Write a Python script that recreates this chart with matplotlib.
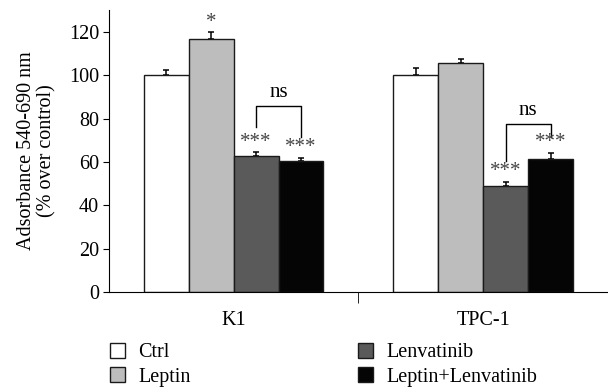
from matplotlib import pyplot as plt
from matplotlib.patches import Patch
import numpy as np

plt.rcParams['font.family'] = ['Liberation Serif', 'DejaVu Serif']
plt.rcParams['font.size'] = 14.5

# data
groups = ['K1', 'TPC-1']
treatments = ['Ctrl', 'Leptin', 'Lenvatinib', 'Leptin+Lenvatinib']
colors = ['#ffffff', '#bdbdbd', '#5a5a5a', '#050505']
values = np.array([[100.0, 116.8, 62.5, 60.6],
                   [100.1, 105.4, 48.9, 61.2]])
errors = np.array([[2.6, 2.9, 1.9, 1.4],
                   [3.0, 1.9, 1.8, 3.0]])
stars = [['', '*', '***', '***'],
         ['', '', '***', '***']]
# ns brackets: (group, left bar, right bar, left foot, right foot, top)
brackets = [(0, 2, 3, 76.0, 71.5, 85.6),
            (1, 2, 3, 60.4, 71.5, 77.5)]

width = 0.18
offsets = (np.arange(4) - 1.5) * width
x = np.arange(len(groups))

fig = plt.figure(figsize=(6.08, 3.89), dpi=100)
ax = fig.add_axes([0.179, 0.2494, 0.821, 0.7246])

for j in range(4):
    ax.bar(x + offsets[j], values[:, j], width, color=colors[j],
           edgecolor='#1a1a1a', linewidth=1.0, zorder=2)
    ax.errorbar(x + offsets[j], values[:, j],
                yerr=[np.zeros(len(groups)), errors[:, j]],
                fmt='none', ecolor='black', elinewidth=1.1,
                capsize=2.5, capthick=1.1, zorder=1)

for i in range(len(groups)):
    for j in range(4):
        if stars[i][j]:
            ax.text(x[i] + offsets[j], values[i, j] + errors[i, j] + 0.3,
                    stars[i][j], ha='center', va='bottom', fontsize=15,
                    color='#444444')

for g, a, b, ya, yb, top in brackets:
    xa = x[g] + offsets[a]
    xb = x[g] + offsets[b]
    ax.plot([xa, xa, xb, xb], [ya, top, top, yb], color='black', lw=1.0)
    ax.text((xa + xb) / 2, top + 2, 'ns', ha='center', va='bottom',
            fontsize=15)

ax.set_xlim(-0.5, 1.5)
ax.set_ylim(0, 130)
ax.set_yticks(np.arange(0, 121, 20))
ax.set_xticks(x)
ax.set_xticklabels(groups)
ax.set_xticks([0.5], minor=True)
ax.tick_params(axis='x', which='major', length=0, pad=14)
ax.tick_params(axis='x', which='minor', length=8, direction='out')
ax.tick_params(axis='y', length=4, direction='out', pad=3)
ax.spines['top'].set_visible(False)
ax.spines['right'].set_visible(False)
ax.set_ylabel('Adsorbance 540-690 nm\n(% over control)', linespacing=1.05,
              labelpad=9)

handles = [Patch(facecolor=c, edgecolor='#1a1a1a', linewidth=1.0)
           for c in colors]
leg_kw = dict(loc='center left', frameon=False, borderaxespad=0,
              borderpad=0, handlelength=0.75, handleheight=0.75,
              handletextpad=0.65, labelspacing=0.25)
fig.legend(handles[:2], treatments[:2], bbox_to_anchor=(0.181, 0.062), **leg_kw)
fig.legend(handles[2:], treatments[2:], bbox_to_anchor=(0.589, 0.062), **leg_kw)

plt.savefig('out.png', dpi=100)
